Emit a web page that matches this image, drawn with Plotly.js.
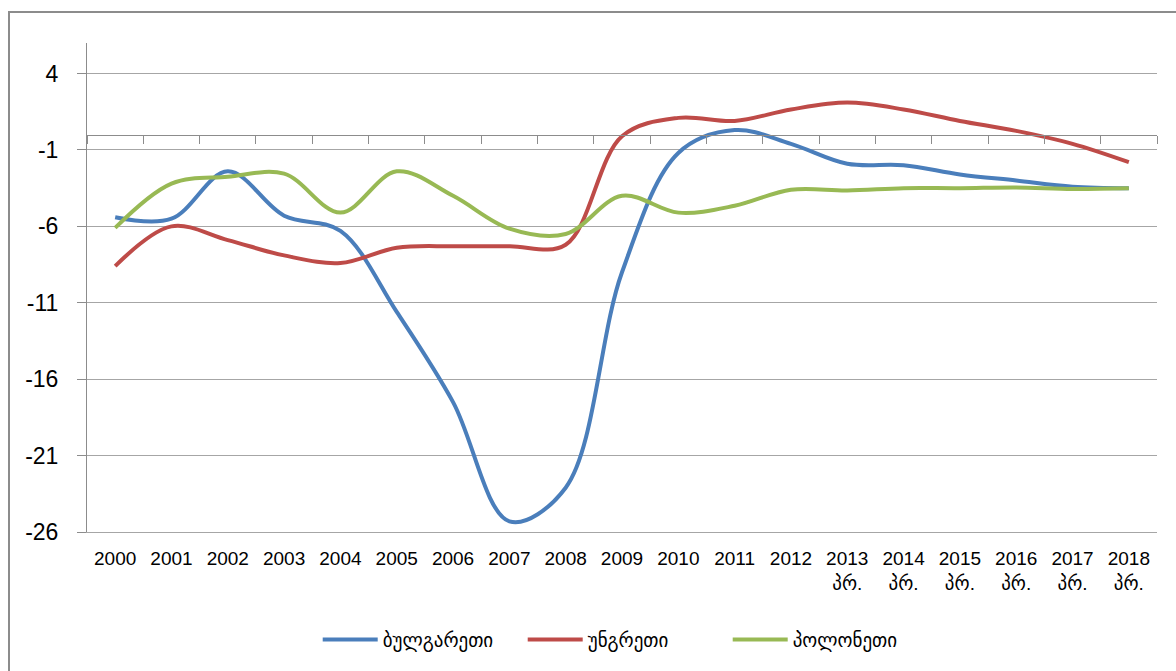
<!DOCTYPE html>
<html>
<head>
<meta charset="utf-8">
<script src="https://cdn.plot.ly/plotly-3.0.1.min.js"></script>
<style>
  html, body { margin: 0; padding: 0; background: #ffffff; overflow: hidden; }
  #chart { width: 1176px; height: 671px; }
</style>
</head>
<body>
<div id="chart"></div>
<script>
// Categories (years) and their tick labels
const categories = ["2000","2001","2002","2003","2004","2005","2006","2007","2008","2009",
                    "2010","2011","2012","2013","2014","2015","2016","2017","2018"];
const tickLabels = ["2000","2001","2002","2003","2004","2005","2006","2007","2008","2009",
                    "2010","2011","2012","2013<br>პრ.","2014<br>პრ.","2015<br>პრ.",
                    "2016<br>პრ.","2017<br>პრ.","2018<br>პრ."];

// Series names
const seriesNames = ["ბულგარეთი", "უნგრეთი", "პოლონეთი"];

// Series values
const bulgaria = [-5.4, -5.5, -2.4, -5.3, -6.3, -11.6, -17.5, -25.3, -23.1, -9.0,
                  -1.2, 0.3, -0.6, -1.9, -2.0, -2.6, -3.0, -3.4, -3.5];
const hungary  = [-8.6, -6.0, -6.9, -7.9, -8.4, -7.4, -7.3, -7.3, -7.2, -0.1,
                  1.1, 0.9, 1.65, 2.1, 1.65, 0.9, 0.25, -0.6, -1.8];
const poland   = [-6.1, -3.2, -2.75, -2.55, -5.1, -2.4, -4.0, -6.15, -6.5, -4.0,
                  -5.1, -4.65, -3.6, -3.65, -3.5, -3.5, -3.45, -3.55, -3.5];

const seriesValues = [bulgaria, hungary, poland];
const seriesColors = ["#4a7ebb", "#be4b48", "#98b954"];

// Y tick values
const yTicks = [4, -1, -6, -11, -16, -21, -26];
const yMin = -26, yMax = 6;

const FONT = "Liberation Sans, Arial, DejaVu Sans, sans-serif";
const GEO_FONT = "DejaVu Sans, Noto Sans, sans-serif";
const GRID = "#a6a6a6";
const AXIS = "#8c8c8c";

const traces = seriesValues.map((vals, i) => ({
  type: "scatter",
  mode: "lines",
  name: seriesNames[i],
  x: categories,
  y: vals,
  line: { color: seriesColors[i], width: 4, shape: "spline", smoothing: 1 },
  hoverinfo: "x+y+name"
}));

const layout = {
  width: 1176,
  height: 671,
  margin: { l: 87, r: 19, t: 43, b: 139 },
  paper_bgcolor: "#ffffff",
  plot_bgcolor: "#ffffff",
  showlegend: true,
  font: { family: FONT, color: "#000000" },
  xaxis: {
    type: "category",
    categoryorder: "array",
    categoryarray: categories,
    tickmode: "array",
    tickvals: categories,
    ticktext: tickLabels,
    range: [-0.5, 18.5],
    showgrid: false,
    zeroline: false,
    showline: true,
    linecolor: GRID,
    linewidth: 1,
    ticks: "",
    ticklabelstandoff: 9,
    tickfont: { family: FONT, size: 19, color: "#000000" },
    fixedrange: true
  },
  xaxis2: {
    overlaying: "x",
    anchor: "free",
    position: (0 - yMin) / (yMax - yMin),
    side: "bottom",
    type: "linear",
    range: [-0.5, 18.5],
    tickmode: "linear",
    tick0: -0.5,
    dtick: 1,
    ticks: "outside",
    ticklen: 8,
    tickwidth: 1,
    tickcolor: AXIS,
    showticklabels: false,
    showgrid: false,
    zeroline: false,
    showline: true,
    linecolor: AXIS,
    linewidth: 1,
    fixedrange: true
  },
  yaxis: {
    range: [yMin, yMax],
    tickmode: "array",
    tickvals: yTicks,
    ticktext: yTicks.map(String),
    showgrid: true,
    gridcolor: GRID,
    gridwidth: 1,
    zeroline: false,
    showline: true,
    linecolor: AXIS,
    linewidth: 1,
    ticks: "outside",
    ticklen: 9,
    tickcolor: AXIS,
    ticklabelstandoff: 14,
    tickfont: { family: FONT, size: 23, color: "#000000" },
    fixedrange: true
  },
  legend: {
    orientation: "h",
    x: 0.503,
    xanchor: "center",
    y: -0.22,
    yanchor: "middle",
    font: { family: GEO_FONT, size: 19, color: "#000000" },
    itemwidth: 55,
    entrywidth: 135,
    entrywidthmode: "pixels",
    bgcolor: "rgba(0,0,0,0)"
  },
  shapes: [{
    type: "rect",
    xref: "paper", yref: "paper",
    x0: -0.0729, x1: 1.2,
    y0: -0.5, y1: 1.0634,
    line: { color: AXIS, width: 2 },
    fillcolor: "rgba(0,0,0,0)",
    layer: "below"
  }]
};

// empty trace so the overlay axis (line at zero with boundary ticks) is registered
traces.push({ type: "scatter", x: [], y: [], xaxis: "x2", showlegend: false, hoverinfo: "skip" });

Plotly.newPlot("chart", traces, layout, { displayModeBar: false, staticPlot: true });
</script>
</body>
</html>
